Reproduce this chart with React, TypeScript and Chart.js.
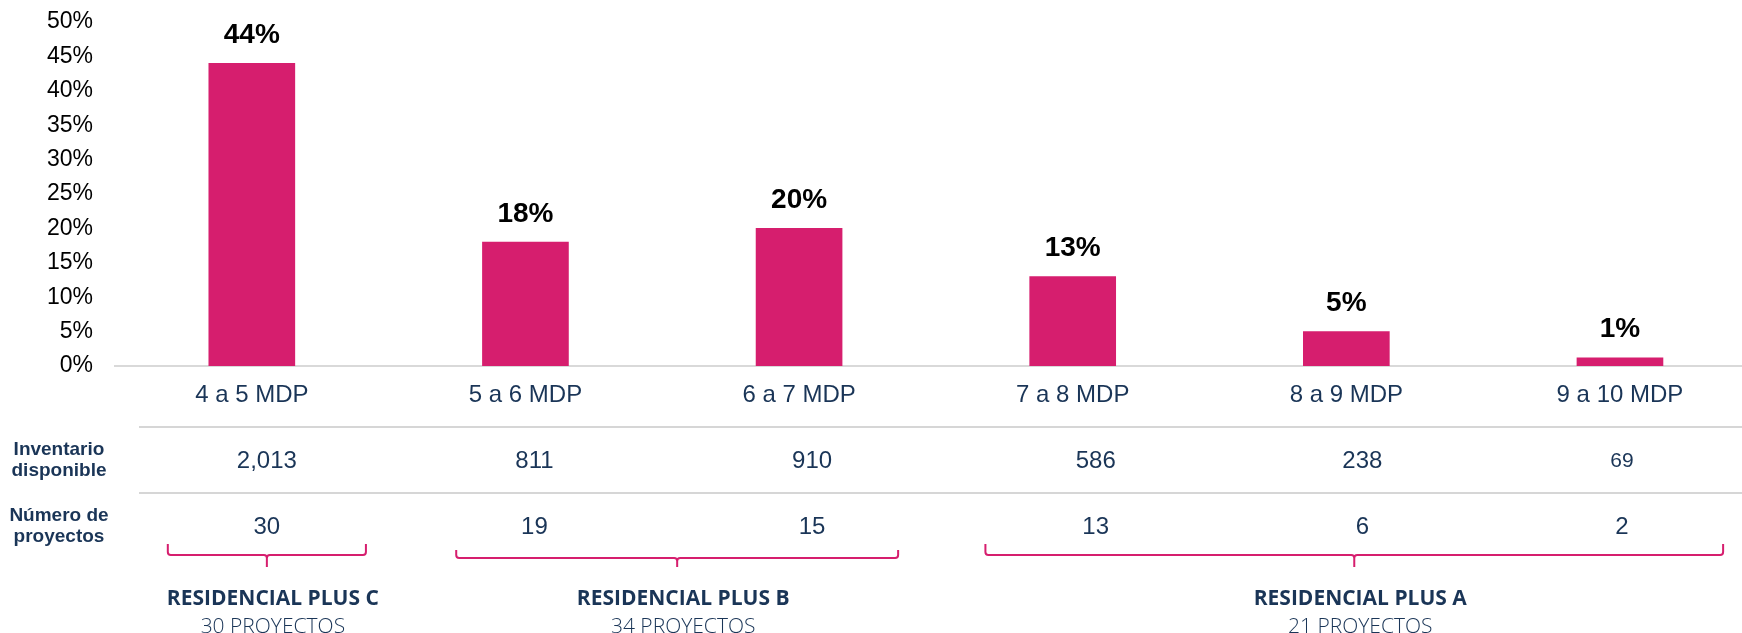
import React, { useEffect, useRef } from "react";
import { Chart, registerables } from "chart.js";

Chart.register(...registerables);

// ---------- data ----------
const categories = ["4 a 5 MDP", "5 a 6 MDP", "6 a 7 MDP", "7 a 8 MDP", "8 a 9 MDP", "9 a 10 MDP"];
const shareValues = [44, 18, 20, 13, 5, 1.2];
const yTickStep = 5;
const yMax = 50;
const inventario = ["2,013", "811", "910", "586", "238", "69"];
const numProyectos = ["30", "19", "15", "13", "6", "2"];
const rowLabels = [
  ["Inventario", "disponible"],
  ["Número de", "proyectos"],
];
const groupNames = ["RESIDENCIAL PLUS C", "RESIDENCIAL PLUS B", "RESIDENCIAL PLUS A"];
const groupCounts = ["30 PROYECTOS", "34 PROYECTOS", "21 PROYECTOS"];
const groupFirst = [0, 1, 3];
const groupLast = [0, 2, 5];

// ---------- layout / style ----------
const W = 1742;
const H = 633;
const NAVY = "#1A3557";
const MAGENTA = "#D61E6E";
const BASE_FONT = "'Liberation Sans', Arial, sans-serif";
const GROUP_FONT = "'Open Sans', 'Noto Sans', sans-serif";
const LAYOUT = {
  yAxisWidth: 115,
  xAxisHeight: 267,
  topPad: 22,
  labelGap: 28,
  tableLineStart: 139,
  tableLines: [427, 493],
  rowY: [461, 527],
  rowLabelX: 59,
  tableOffsets: [15, 9, 13, 23, 16, 2],
  invFont: [24, 24, 24, 24, 24, 21],
  bracketPad: [
    [-0.307, 0.417],
    [-0.253, 0.362],
    [-0.319, 0.377],
  ],
  bracketTop: [544, 550, 544],
  bracketLine: [555, 558, 555],
  bracketTick: 567,
  groupLabelShift: 6,
  groupNameY: 599,
  groupCountY: 627,
};

const valueLabelPlugin = {
  id: "valueLabels",
  afterDatasetsDraw(chart: any) {
    const ctx = chart.ctx;
    const meta = chart.getDatasetMeta(0);
    ctx.save();
    ctx.font = `bold 28px ${BASE_FONT}`;
    ctx.fillStyle = "#000000";
    ctx.textAlign = "center";
    ctx.textBaseline = "middle";
    meta.data.forEach((bar: any, i: number) => {
      ctx.fillText(`${Math.round(shareValues[i])}%`, bar.x, bar.y - LAYOUT.labelGap);
    });
    ctx.restore();
  },
};

const tablePlugin = {
  id: "tableBelow",
  afterDraw(chart: any) {
    const ctx = chart.ctx;
    const xs = chart.scales.x;
    ctx.save();
    // table lines
    ctx.strokeStyle = "#C8C8C8";
    ctx.lineWidth = 1.5;
    LAYOUT.tableLines.forEach((y) => {
      ctx.beginPath();
      ctx.moveTo(LAYOUT.tableLineStart, y);
      ctx.lineTo(W, y);
      ctx.stroke();
    });
    // row labels
    ctx.fillStyle = NAVY;
    ctx.textAlign = "center";
    ctx.textBaseline = "middle";
    ctx.font = `bold 19px ${BASE_FONT}`;
    rowLabels.forEach((lines, r) => {
      ctx.fillText(lines[0], LAYOUT.rowLabelX, LAYOUT.rowY[r] - 11);
      ctx.fillText(lines[1], LAYOUT.rowLabelX, LAYOUT.rowY[r] + 10);
    });
    // values
    categories.forEach((_, i) => {
      const x = xs.getPixelForValue(i) + LAYOUT.tableOffsets[i];
      ctx.font = `${LAYOUT.invFont[i]}px ${BASE_FONT}`;
      ctx.fillText(inventario[i], x, LAYOUT.rowY[0]);
      ctx.font = `24px ${BASE_FONT}`;
      ctx.fillText(numProyectos[i], x, LAYOUT.rowY[1]);
    });
    // brackets
    ctx.strokeStyle = MAGENTA;
    ctx.lineWidth = 2;
    const r = 3;
    groupNames.forEach((name, g) => {
      const left = xs.getPixelForValue(groupFirst[g] + LAYOUT.bracketPad[g][0]);
      const right = xs.getPixelForValue(groupLast[g] + LAYOUT.bracketPad[g][1]);
      const mid = (left + right) / 2;
      const top = LAYOUT.bracketTop[g];
      const hy = LAYOUT.bracketLine[g];
      const bottom = LAYOUT.bracketTick;
      ctx.beginPath();
      ctx.moveTo(left, top);
      ctx.lineTo(left, hy - r);
      ctx.quadraticCurveTo(left, hy, left + r, hy);
      ctx.lineTo(mid - r, hy);
      ctx.quadraticCurveTo(mid, hy, mid, hy + r);
      ctx.lineTo(mid, bottom);
      ctx.moveTo(mid, hy + r);
      ctx.quadraticCurveTo(mid, hy, mid + r, hy);
      ctx.lineTo(right - r, hy);
      ctx.quadraticCurveTo(right, hy, right, hy - r);
      ctx.lineTo(right, top);
      ctx.stroke();

      ctx.fillStyle = NAVY;
      ctx.font = `bold 21px ${GROUP_FONT}`;
      ctx.fillText(name, mid + LAYOUT.groupLabelShift, LAYOUT.groupNameY);
      ctx.font = `300 21px ${GROUP_FONT}`;
      ctx.fillText(groupCounts[g], mid + LAYOUT.groupLabelShift, LAYOUT.groupCountY);
    });
    ctx.restore();
  },
};

export default function App() {
  const canvasRef = useRef<HTMLCanvasElement | null>(null);

  useEffect(() => {
    if (!canvasRef.current) return;
    const chart = new Chart(canvasRef.current, {
      type: "bar",
      data: {
        datasets: [
          {
            data: shareValues.map((v, i) => ({ x: i, y: v })),
            backgroundColor: MAGENTA,
            borderWidth: 0,
            barThickness: 86,
          },
        ],
      },
      options: {
        responsive: false,
        animation: false,
        devicePixelRatio: 1,
        layout: { padding: { top: LAYOUT.topPad, left: 0, right: 0, bottom: 0 } },
        plugins: {
          legend: { display: false },
          tooltip: { enabled: false },
        },
        scales: {
          x: {
            type: "linear",
            offset: false,
            min: -0.5,
            max: 5.446,
            afterBuildTicks: (s: any) => {
              s.ticks = categories.map((_, i) => ({ value: i }));
            },
            afterFit: (s: any) => {
              s.height = LAYOUT.xAxisHeight;
            },
            grid: { display: false, drawTicks: false },
            border: { display: true, color: "#D9D9D9", width: 2 },
            ticks: {
              autoSkip: false,
              maxRotation: 0,
              padding: 15,
              color: NAVY,
              font: { family: BASE_FONT, size: 24 },
              callback: (v: any) => categories[Math.round(Number(v))] ?? "",
            },
          },
          y: {
            min: 0,
            max: yMax,
            afterFit: (s: any) => {
              s.width = LAYOUT.yAxisWidth;
              s.paddingTop = 0;
              s.paddingBottom = 0;
            },
            grid: { display: false, drawTicks: false },
            border: { display: false },
            ticks: {
              stepSize: yTickStep,
              padding: 22,
              color: "#000000",
              font: { family: BASE_FONT, size: 23 },
              callback: (v: any) => `${v}%`,
            },
          },
        },
      },
      plugins: [valueLabelPlugin, tablePlugin],
    });
    return () => chart.destroy();
  }, []);

  return (
    <div style={{ position: "fixed", left: 0, top: 0, width: W, height: H, background: "#fff" }}>
      <canvas ref={canvasRef} width={W} height={H} style={{ width: W, height: H, display: "block" }} />
    </div>
  );
}
